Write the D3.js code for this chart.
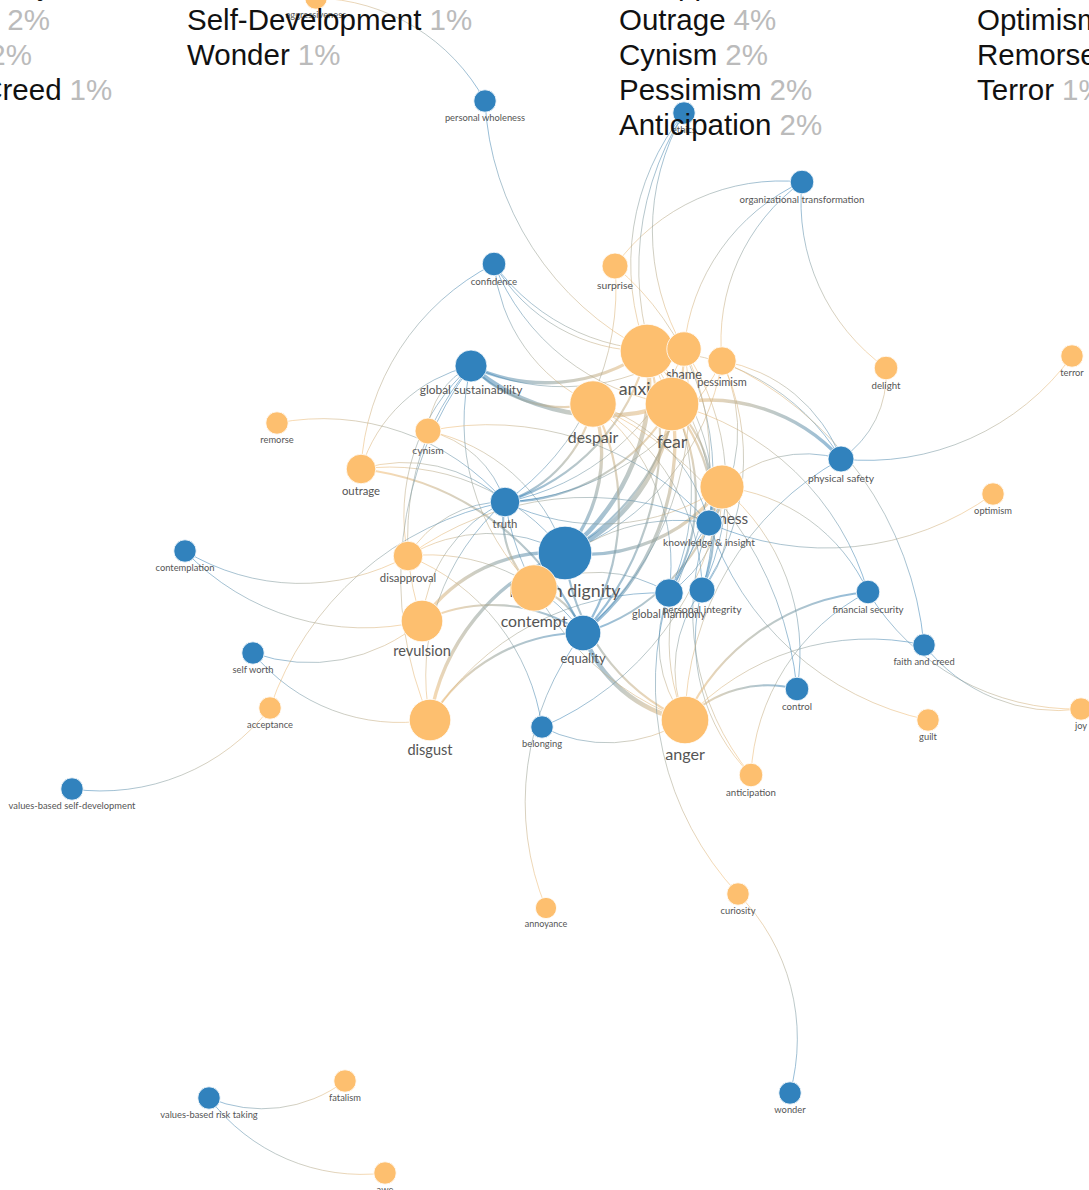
<!doctype html>
<html>
<head>
<meta charset="utf-8">
<style>
	body {
		margin: 0;
		background: #fff;
	}
	.link {
		fill: none;
		stroke-opacity: 0.55;
	}
	.node circle {
		stroke: #fff;
		stroke-width: 1px;
		stroke-opacity: 0.8;
	}
	.node text {
		font-family: Lato, "Open Sans", sans-serif;
		fill: #555;
		text-anchor: middle;
	}
	.legend text {
		font: 29.5px "Liberation Sans", Arial, sans-serif;
		fill: #111;
	}
	.legend .pct {
		fill: #bbb;
	}
</style>
<script src="https://d3js.org/d3.v7.min.js"></script>
</head>
<body>
<div id="canvas"></div>
<script>
	var width = 1089,
		height = 1190;

	// nodes, in drawing order (later ones sit on top)
	var nodeNames = ["aggressiveness", "personal wholeness", "ethics", "organizational transformation",
		"confidence", "surprise", "anxiety", "shame", "fear", "pessimism", "delight", "terror",
		"global sustainability", "despair", "remorse", "cynism", "outrage", "physical safety",
		"optimism", "sadness", "knowledge & insight", "truth", "human dignity", "contemplation",
		"disapproval", "contempt", "global harmony", "personal integrity", "financial security",
		"revulsion", "equality", "faith and creed", "self worth", "control", "acceptance",
		"disgust", "belonging", "anger", "guilt", "joy", "anticipation",
		"values-based self-development", "annoyance", "curiosity", "wonder", "fatalism",
		"values-based risk taking", "awe"];
	var nodeKinds = ["e", "v", "v", "v",
		"v", "e", "e", "e", "e", "e", "e", "e",
		"v", "e", "e", "e", "e", "v",
		"e", "e", "v", "v", "v", "v",
		"e", "e", "v", "v", "v",
		"e", "v", "v", "v", "v", "e",
		"e", "v", "e", "e", "e", "e",
		"v", "e", "e", "v", "e",
		"v", "e"];
	var nodeCounts = [2, 2, 2, 3,
		3, 5, 28, 12, 28, 7, 3, 2,
		10, 22, 2, 5, 8, 5,
		2, 20, 5, 8, 28, 2,
		8, 22, 7, 5, 3,
		18, 13, 2, 2, 3, 2,
		18, 2, 23, 2, 2, 3,
		2, 1, 2, 2, 2,
		2, 2];
	// layout position of each node
	var layoutX = [316, 485, 684, 802,
		494, 615, 647, 684, 672, 722, 886, 1072,
		471, 593, 277, 428, 361, 841,
		993, 722, 709, 505, 565, 185,
		408, 534, 669, 702, 868,
		422, 583, 924, 253, 797, 270,
		430, 542, 685, 928, 1081, 751,
		72, 546, 738, 790, 345,
		209, 385];
	var layoutY = [-2, 101, 113, 182,
		264, 266, 351, 349, 404, 361, 368, 356,
		366, 404, 423, 431, 469, 459,
		494, 487, 523, 502, 553, 551,
		556, 588, 593, 590, 592,
		621, 633, 645, 653, 689, 708,
		720, 727, 720, 720, 709, 775,
		789, 908, 894, 1093, 1081,
		1098, 1173];

	// links: emotion, value, strength
	var links = [
		["anxiety", "human dignity", 4], ["fear", "human dignity", 4], ["despair", "human dignity", 3],
		["contempt", "human dignity", 3], ["sadness", "human dignity", 3], ["disgust", "human dignity", 3],
		["revulsion", "human dignity", 3], ["anger", "human dignity", 2], ["shame", "human dignity", 2],
		["outrage", "human dignity", 1], ["disapproval", "human dignity", 1], ["pessimism", "human dignity", 1],
		["cynism", "human dignity", 1],
		["anger", "equality", 4], ["fear", "equality", 3], ["anxiety", "equality", 2],
		["despair", "equality", 2], ["contempt", "equality", 2], ["disgust", "equality", 2],
		["revulsion", "equality", 2], ["sadness", "equality", 2], ["outrage", "equality", 2],
		["disapproval", "equality", 1], ["annoyance", "equality", 1], ["shame", "equality", 1],
		["fear", "global sustainability", 4], ["anxiety", "global sustainability", 3],
		["despair", "global sustainability", 2], ["cynism", "global sustainability", 1],
		["outrage", "global sustainability", 1], ["disapproval", "global sustainability", 1],
		["revulsion", "global sustainability", 1], ["disgust", "global sustainability", 1],
		["contempt", "global sustainability", 1], ["shame", "global sustainability", 1],
		["despair", "truth", 2], ["fear", "truth", 2], ["anxiety", "truth", 2], ["contempt", "truth", 2],
		["sadness", "truth", 1], ["shame", "truth", 1], ["pessimism", "truth", 1], ["anger", "truth", 1],
		["disgust", "truth", 1], ["revulsion", "truth", 1], ["cynism", "truth", 1], ["outrage", "truth", 1],
		["disapproval", "truth", 1], ["remorse", "truth", 1], ["surprise", "truth", 1], ["acceptance", "truth", 1],
		["fear", "knowledge & insight", 2], ["sadness", "knowledge & insight", 2],
		["anxiety", "knowledge & insight", 1], ["despair", "knowledge & insight", 1],
		["contempt", "knowledge & insight", 1], ["anger", "knowledge & insight", 1],
		["pessimism", "knowledge & insight", 1], ["cynism", "knowledge & insight", 1],
		["optimism", "knowledge & insight", 1], ["guilt", "knowledge & insight", 1],
		["surprise", "knowledge & insight", 1], ["anticipation", "knowledge & insight", 1],
		["disapproval", "knowledge & insight", 1],
		["fear", "global harmony", 2], ["anxiety", "global harmony", 1], ["despair", "global harmony", 1],
		["shame", "global harmony", 1], ["sadness", "global harmony", 1], ["anger", "global harmony", 1],
		["contempt", "global harmony", 1], ["curiosity", "global harmony", 1], ["disgust", "global harmony", 1],
		["fear", "personal integrity", 2], ["anxiety", "personal integrity", 1], ["shame", "personal integrity", 1],
		["pessimism", "personal integrity", 1], ["sadness", "personal integrity", 1],
		["anger", "personal integrity", 1], ["anticipation", "personal integrity", 1],
		["despair", "personal integrity", 1],
		["fear", "physical safety", 3], ["anxiety", "physical safety", 1], ["pessimism", "physical safety", 1],
		["sadness", "physical safety", 1], ["terror", "physical safety", 1], ["delight", "physical safety", 1],
		["anger", "physical safety", 1],
		["anxiety", "confidence", 1], ["shame", "confidence", 1], ["fear", "confidence", 1],
		["despair", "confidence", 1], ["outrage", "confidence", 1],
		["surprise", "organizational transformation", 1], ["shame", "organizational transformation", 1],
		["pessimism", "organizational transformation", 1], ["delight", "organizational transformation", 1],
		["anxiety", "ethics", 1], ["shame", "ethics", 1], ["fear", "ethics", 1],
		["aggressiveness", "personal wholeness", 1], ["anxiety", "personal wholeness", 1],
		["anger", "financial security", 2], ["fear", "financial security", 1], ["joy", "financial security", 1],
		["anticipation", "financial security", 1], ["sadness", "financial security", 1],
		["joy", "faith and creed", 1], ["anger", "faith and creed", 1], ["pessimism", "faith and creed", 1],
		["anger", "control", 2], ["sadness", "control", 1], ["despair", "control", 1],
		["anger", "belonging", 1], ["sadness", "belonging", 1], ["disapproval", "belonging", 1],
		["revulsion", "self worth", 1], ["disgust", "self worth", 1],
		["disapproval", "contemplation", 1], ["revulsion", "contemplation", 1],
		["acceptance", "values-based self-development", 1],
		["fatalism", "values-based risk taking", 1], ["awe", "values-based risk taking", 1],
		["curiosity", "wonder", 1]
	];

	// legend lists
	var valueNamesA = ["Physical Safety", "Confidence", "Belonging", "Faith and Creed"],
		valuePctA = [3, 2, 2, 1],
		valueNamesB = ["Control", "Self-Development", "Wonder"],
		valuePctB = [1, 1, 1],
		emotionNamesA = ["Disapproval", "Outrage", "Cynism", "Pessimism", "Anticipation"],
		emotionPctA = [4, 4, 2, 2, 2],
		emotionNamesB = ["Optimism", "Remorse", "Terror"],
		emotionPctB = [1, 1, 1];

	var colors = {e: "#fdbf6f", v: "#3182bd"};

	var nodes = nodeNames.map((name, i) => ({
		name: name,
		kind: nodeKinds[i],
		count: nodeCounts[i],
		lx: layoutX[i],
		ly: layoutY[i]
	}));
	var byName = new Map(nodes.map(d => [d.name, d]));

	var scale_x = d3.scaleLinear().domain([0, 1089]).range([0, width]),
		scale_y = d3.scaleLinear().domain([0, 1190]).range([0, height]),
		scale_r = d3.scaleLinear().domain([0, 28]).range([10, 26.8]),
		scale_font = d3.scaleLinear().domain([0, 28]).range([8.7, 17.8]),
		scale_w = d3.scaleLinear().domain([1, 4]).range([1, 4.5]);

	var svg = d3.select("#canvas")
		.append("svg")
		.attr("width", width)
		.attr("height", height);

	var defs = svg.append("defs");

	var link_data = links.map((l, i) => ({
		id: "lg" + i,
		s: byName.get(l[0]),
		t: byName.get(l[1]),
		w: l[2]
	}));

	var grads = defs.selectAll("linearGradient")
		.data(link_data)
	  .enter().append("linearGradient")
		.attr("id", d => d.id)
		.attr("gradientUnits", "userSpaceOnUse")
		.attr("x1", d => scale_x(d.s.lx))
		.attr("y1", d => scale_y(d.s.ly))
		.attr("x2", d => scale_x(d.t.lx))
		.attr("y2", d => scale_y(d.t.ly));
	grads.append("stop").attr("offset", "0%").attr("stop-color", colors.e);
	grads.append("stop").attr("offset", "100%").attr("stop-color", colors.v);

	var linkArc = function(d) {
		var x1 = scale_x(d.s.lx), y1 = scale_y(d.s.ly),
			x2 = scale_x(d.t.lx), y2 = scale_y(d.t.ly),
			dr = Math.hypot(x2 - x1, y2 - y1);
		return `M${x1},${y1}A${dr},${dr} 0 0,1 ${x2},${y2}`;
	};

	svg.append("g")
		.attr("id", "links")
	  .selectAll("path")
		.data(link_data)
	  .enter().append("path")
		.attr("class", "link")
		.attr("d", linkArc)
		.attr("stroke", d => `url(#${d.id})`)
		.attr("stroke-width", d => scale_w(d.w));

	var node = svg.append("g")
		.attr("id", "nodes")
	  .selectAll("g.node")
		.data(nodes)
	  .enter().append("g")
		.attr("class", "node")
		.attr("transform", d => `translate(${scale_x(d.lx)}, ${scale_y(d.ly)})`);

	node.append("circle")
		.attr("r", d => scale_r(d.count))
		.attr("fill", d => colors[d.kind]);

	node.append("text")
		.attr("y", d => scale_r(d.count) + scale_font(d.count) * 0.98)
		.style("font-size", d => scale_font(d.count) + "px")
		.text(d => d.name);

	// legend columns on top
	var legend = svg.append("g").attr("class", "legend");
	var columns = [
		{x: -150, row0: 0, names: valueNamesA, pcts: valuePctA},
		{x: 187, row0: 0, names: valueNamesB, pcts: valuePctB},
		{x: 619, row0: 0, names: emotionNamesA, pcts: emotionPctA},
		{x: 977, row0: 1, names: emotionNamesB, pcts: emotionPctB}
	];
	columns.forEach(function(col) {
		col.names.forEach(function(name, i) {
			var t = legend.append("text")
				.attr("x", col.x)
				.attr("y", -5 + (col.row0 + i) * 35);
			t.append("tspan").text(name);
			t.append("tspan").attr("class", "pct").attr("dx", 8).text(col.pcts[i] + "%");
		});
	});
</script>
</body>
</html>
